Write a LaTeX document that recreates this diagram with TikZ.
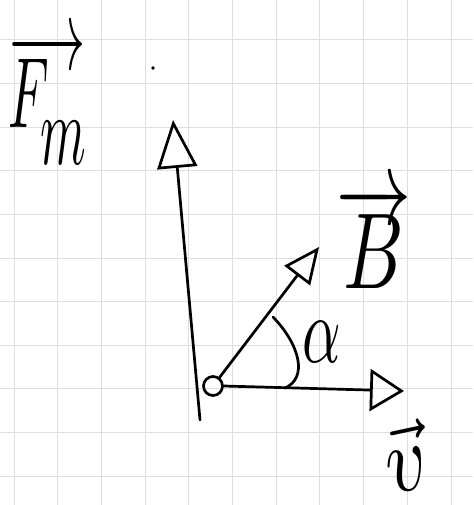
\documentclass[tikz,border=0pt]{standalone}
\usepackage{graphicx}
\usetikzlibrary{arrows.meta}
\begin{document}
\begin{tikzpicture}[x=1pt,y=-1pt,
  gridline/.style={draw=black!13, line width=1pt},
  ink/.style={line width=2.7pt, line cap=round, line join=round},
  bighead/.style={-{Triangle[open, length=48pt, width=40pt]}},
  bhead/.style={-{Triangle[open, length=36pt, width=32pt]}},
  vhead/.style={-{Triangle[open, length=34pt, width=42pt]}},
  lbl/.style={inner sep=0pt}]
\useasboundingbox (0,0) rectangle (473,505);
\fill[white] (0,0) rectangle (473,505);
\foreach \i in {0,...,10} \draw[gridline] ({14+43.7*\i},0) -- ++(0,505);
\foreach \j in {0,...,10} \draw[gridline] (0,{40+43.6*\j}) -- ++(473,0);
% particle
\node[draw, circle, ink, minimum size=19pt, inner sep=0pt] (p) at (213,386) {};
% force arrow (vertical)
\coordinate (fbot) at (200,420);
\coordinate (ftop) at (173,120);
\draw[ink, bighead] (fbot) -- (ftop);
% B arrow
\coordinate (btip) at (319,247);
\draw[ink, bhead] (p) -- (btip);
% v arrow
\coordinate (vtip) at (404,391);
\draw[ink, vhead] (p.east) -- (vtip);
% angle arc
\draw[ink] (273,317) .. controls (300,345) and (308,378) .. (285,388);
% dot
\fill (153,68) circle (1.8pt);
% labels
\node[lbl, anchor=base west] (lF) at (8,128) {\scalebox{5.2}[10]{$\overrightarrow{F\!\raisebox{-3.6pt}{$m$}}$}};
\node[lbl, anchor=base west] (lB) at (336,288) {\scalebox{7.5}[10.8]{$\overrightarrow{B}$}};
\node[lbl] (la) at (322,342) {\scalebox{6}[9.5]{$\alpha$}};
\node[lbl, rotate=12, anchor=base] (lv) at (412,490) {\scalebox{8}[9.5]{$\vec{v}$}};
\end{tikzpicture}
\end{document}
